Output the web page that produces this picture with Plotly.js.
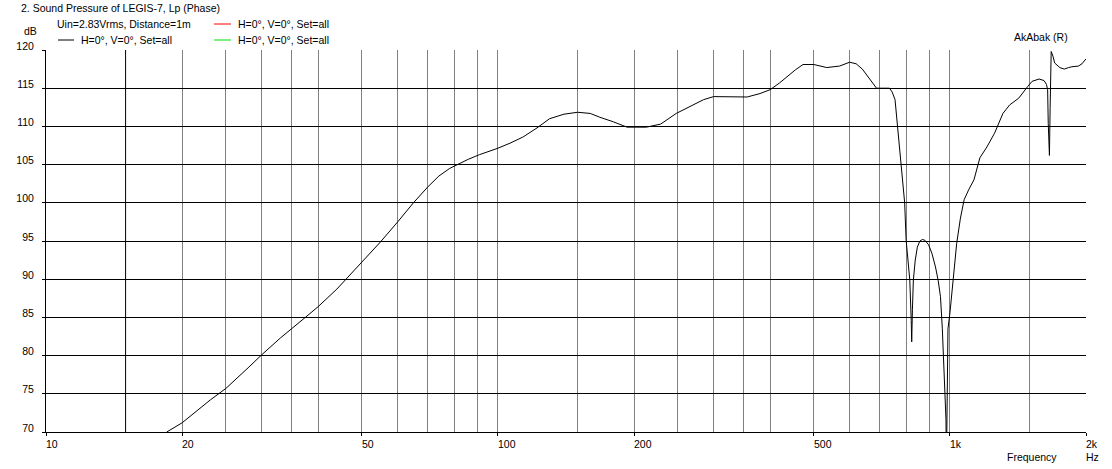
<!DOCTYPE html>
<html>
<head>
<meta charset="utf-8">
<script src="https://cdn.plot.ly/plotly-3.0.1.min.js"></script>
<style>html,body{margin:0;padding:0;background:#fff;}#chart{width:1112px;height:469px;}</style>
</head>
<body>
<div id="chart"></div>
<script>
// ---- data ----
var freqHz = [18.5, 20, 23.1, 25, 28, 30, 33, 35, 38, 40, 44, 50, 55, 60, 65, 70, 74, 78.2, 86, 91, 99.5, 106.3, 113.5, 122, 130, 140, 150, 160, 168, 180, 193, 203, 213, 229, 248, 270, 285, 300, 330, 356, 380, 400, 420, 436, 455, 473, 500, 534, 570, 600, 620, 640, 655, 670, 688, 735, 745, 756, 766, 775, 785, 794, 800, 808, 815, 821, 823, 826, 830, 838, 847, 858, 869, 880, 897, 912, 929, 942, 953, 962, 968, 975, 980, 982, 985, 990, 1000, 1016, 1035, 1055, 1075, 1100, 1130, 1165, 1207, 1255, 1310, 1355, 1420, 1485, 1520, 1575, 1615, 1635, 1645, 1650, 1660, 1666, 1675, 1690, 1705, 1750, 1790, 1830, 1860, 1925, 1960, 1990, 2000];
var splDb  = [70.0, 71.2, 74.2, 75.7, 78.4, 80.1, 82.3, 83.6, 85.3, 86.4, 88.7, 92.25, 94.9, 97.5, 100.0, 102.1, 103.5, 104.5, 105.7, 106.3, 107.1, 107.8, 108.6, 109.8, 111.0, 111.6, 111.85, 111.7, 111.2, 110.6, 109.9, 109.9, 109.9, 110.3, 111.7, 112.8, 113.5, 113.9, 113.9, 113.85, 114.3, 114.8, 115.7, 116.5, 117.4, 118.1, 118.1, 117.7, 117.9, 118.4, 118.2, 117.5, 116.7, 115.8, 115.0, 115.0, 114.5, 113.5, 110.0, 106.5, 103.0, 100.0, 95.1, 92.0, 89.9, 84.6, 81.8, 86.0, 89.9, 92.5, 94.2, 95.0, 95.2, 95.1, 94.5, 93.4, 91.6, 89.8, 87.7, 83.5, 79.8, 75.0, 71.6, 65.0, 76.0, 83.5, 85.6, 89.9, 94.7, 98.0, 100.4, 101.7, 103.0, 105.9, 107.3, 109.1, 111.7, 112.8, 113.7, 115.2, 115.9, 116.2, 116.0, 115.5, 114.8, 110.4, 106.2, 112.5, 119.8, 119.2, 118.3, 117.7, 117.5, 117.7, 117.8, 117.9, 118.2, 118.7, 118.8];

var xLabelVals = [10, 20, 50, 100, 200, 500, 1000, 2000];
var xLabelText = ["10", "20", "50", "100", "200", "500", "1k", "2k"];
var xGridGray  = [20, 25, 30, 35, 40, 50, 60, 70, 80, 90, 100, 150, 200, 250, 300, 350, 400, 500, 600, 700, 800, 900, 1000, 1500, 2000];
var xGridBlack = [15];

var titleText = "2. Sound Pressure of LEGIS-7, Lp (Phase)";
var legendHeader = "Uin=2.83Vrms, Distance=1m";
var legendItems = ["H=0°, V=0°, Set=all", "H=0°, V=0°, Set=all", "H=0°, V=0°, Set=all"];
var legendColors = ["#000000", "#ff0000", "#00dd00"];

// ---- helpers: pixel -> paper coords (plot area 46..1086 x, 50..432 y) ----
var L = 46, R = 1086, T = 50, B = 432;
function px(x){ return (x - L) / (R - L); }
function py(y){ return (B - y) / (B - T); }

var FONT = "Liberation Sans, Arial, sans-serif";
var fnt = {family: FONT, size: 10.5, color: "#000"};

var ann = [];
xLabelVals.forEach(function(v, i){
  ann.push({xref: "x", yref: "paper", x: Math.log10(v), y: 0, xanchor: "left", yanchor: "top",
            xshift: -2, yshift: -4, text: xLabelText[i], showarrow: false, font: fnt});
});
function txt(t, x, y, anchor){
  ann.push({xref: "paper", yref: "paper", x: px(x), y: py(y), xanchor: anchor || "left", yanchor: "middle",
            text: t, showarrow: false, font: fnt, borderpad: 0});
}
txt(legendHeader, 56, 24);
txt(legendItems[1], 237, 24);
txt(legendItems[0], 80, 40);
txt(legendItems[2], 237, 40);
txt("dB", 38, 31, "right");
txt("AkAbak (R)", 1013, 37);
txt("Frequency", 1006, 457);
txt("Hz", 1085, 457);

var shapes = [];
function legLine(x0, x1, y, c){
  shapes.push({type: "line", xref: "paper", yref: "paper", x0: px(x0), x1: px(x1), y0: py(y), y1: py(y),
               line: {color: c, width: 1}});
}
legLine(214, 231, 24, legendColors[1]);
legLine(58, 74, 40, legendColors[0]);
legLine(214, 231, 40, legendColors[2]);
xGridBlack.forEach(function(v){
  shapes.push({type: "line", xref: "x", yref: "paper", x0: v, x1: v, y0: 0, y1: 1,
               line: {color: "#000", width: 1}, layer: "below"});
});

var trace = {x: freqHz, y: splDb, type: "scatter", mode: "lines",
             line: {color: "#000", width: 1}, hoverinfo: "x+y", showlegend: false};

var layout = {
  width: 1112, height: 469,
  margin: {l: L, r: 1112 - R, t: T, b: 469 - B, pad: 0},
  paper_bgcolor: "#fff", plot_bgcolor: "#fff",
  font: fnt,
  showlegend: false,
  title: {text: titleText, font: fnt, x: 21 / 1112, xanchor: "left", xref: "container",
          y: 1 - 8 / 469, yanchor: "middle", yref: "container"},
  xaxis: {
    type: "log", range: [1, Math.log10(2000)], fixedrange: true,
    tickmode: "array", tickvals: xLabelVals, showticklabels: false,
    ticks: "outside", ticklen: 3, tickcolor: "#000", tickwidth: 1,
    showgrid: true, gridcolor: "#808080", gridwidth: 1,
    minor: {tickmode: "array", tickvals: xGridGray, showgrid: true, gridcolor: "#808080", gridwidth: 1, ticks: ""},
    showline: true, linecolor: "#000", linewidth: 1, zeroline: false
  },
  yaxis: {
    range: [70, 120], fixedrange: true, tick0: 70, dtick: 5,
    ticks: "outside", ticklen: 3, tickcolor: "#000", tickwidth: 1,
    tickfont: fnt, ticklabelshift: -4, ticklabelstandoff: 6,
    showgrid: true, gridcolor: "#000", gridwidth: 1,
    showline: true, linecolor: "#000", linewidth: 1, zeroline: false
  },
  annotations: ann,
  shapes: shapes
};

Plotly.newPlot("chart", [trace], layout, {displayModeBar: false, staticPlot: true});
</script>
</body>
</html>
